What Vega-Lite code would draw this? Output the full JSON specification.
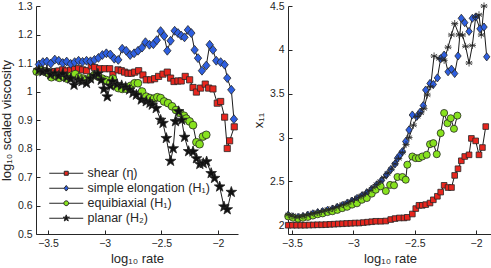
{
  "$schema": "https://vega.github.io/schema/vega-lite/v6.json",
  "padding": {"left": 0, "top": 0, "right": 0, "bottom": 0},
  "config": {
    "font": "Liberation Sans",
    "view": {"stroke": null},
    "axis": {"grid": false, "labelOverlap": false, "domainColor": "#262626", "tickColor": "#262626", "labelColor": "#262626", "titleColor": "#262626", "labelFontSize": 10.5, "titleFontSize": 13, "titleFontWeight": "normal", "tickSize": -4, "labelPadding": 8, "domainWidth": 1, "labelFont": "Liberation Sans", "titleFont": "Liberation Sans"}
  },
  "datasets": {
    "left": [
      {"s":"shear","x":-3.58,"y":1.075},{"s":"shear","x":-3.545,"y":1.072},{"s":"shear","x":-3.51,"y":1.07},{"s":"shear","x":-3.475,"y":1.068},{"s":"shear","x":-3.44,"y":1.07},{"s":"shear","x":-3.405,"y":1.072},{"s":"shear","x":-3.37,"y":1.076},{"s":"shear","x":-3.335,"y":1.072},{"s":"shear","x":-3.3,"y":1.075},{"s":"shear","x":-3.265,"y":1.078},{"s":"shear","x":-3.23,"y":1.08},{"s":"shear","x":-3.195,"y":1.076},{"s":"shear","x":-3.16,"y":1.073},{"s":"shear","x":-3.118,"y":1.09},{"s":"shear","x":-3.088,"y":1.084},{"s":"shear","x":-3.044,"y":1.08},{"s":"shear","x":-3.0,"y":1.08},{"s":"shear","x":-2.956,"y":1.08},{"s":"shear","x":-2.927,"y":1.059},{"s":"shear","x":-2.882,"y":1.076},{"s":"shear","x":-2.853,"y":1.073},{"s":"shear","x":-2.824,"y":1.068},{"s":"shear","x":-2.794,"y":1.064},{"s":"shear","x":-2.765,"y":1.064},{"s":"shear","x":-2.735,"y":1.068},{"s":"shear","x":-2.7,"y":1.073},{"s":"shear","x":-2.662,"y":1.058},{"s":"shear","x":-2.633,"y":1.041},{"s":"shear","x":-2.594,"y":1.041},{"s":"shear","x":-2.559,"y":1.045},{"s":"shear","x":-2.524,"y":1.053},{"s":"shear","x":-2.485,"y":1.061},{"s":"shear","x":-2.447,"y":1.068},{"s":"shear","x":-2.418,"y":1.047},{"s":"shear","x":-2.388,"y":1.035},{"s":"shear","x":-2.353,"y":1.037},{"s":"shear","x":-2.324,"y":1.037},{"s":"shear","x":-2.289,"y":1.053},{"s":"shear","x":-2.25,"y":1.041},{"s":"shear","x":-2.22,"y":1.014},{"s":"shear","x":-2.19,"y":0.998},{"s":"shear","x":-2.153,"y":1.012},{"s":"shear","x":-2.112,"y":1.026},{"s":"shear","x":-2.082,"y":1.012},{"s":"shear","x":-2.044,"y":1.009},{"s":"shear","x":-2.006,"y":0.959},{"s":"shear","x":-1.976,"y":0.965},{"s":"shear","x":-1.941,"y":0.91},{"s":"shear","x":-1.918,"y":0.8},{"s":"shear","x":-1.897,"y":0.827},{"s":"shear","x":-1.856,"y":0.876},
      {"s":"simple","x":-3.58,"y":1.095},{"s":"simple","x":-3.545,"y":1.103},{"s":"simple","x":-3.51,"y":1.105},{"s":"simple","x":-3.475,"y":1.098},{"s":"simple","x":-3.44,"y":1.112},{"s":"simple","x":-3.405,"y":1.108},{"s":"simple","x":-3.37,"y":1.1},{"s":"simple","x":-3.335,"y":1.105},{"s":"simple","x":-3.3,"y":1.097},{"s":"simple","x":-3.265,"y":1.103},{"s":"simple","x":-3.23,"y":1.108},{"s":"simple","x":-3.195,"y":1.104},{"s":"simple","x":-3.16,"y":1.108},{"s":"simple","x":-3.125,"y":1.106},{"s":"simple","x":-3.09,"y":1.111},{"s":"simple","x":-3.055,"y":1.118},{"s":"simple","x":-3.02,"y":1.128},{"s":"simple","x":-2.985,"y":1.134},{"s":"simple","x":-2.95,"y":1.13},{"s":"simple","x":-2.915,"y":1.115},{"s":"simple","x":-2.88,"y":1.111},{"s":"simple","x":-2.845,"y":1.15},{"s":"simple","x":-2.81,"y":1.143},{"s":"simple","x":-2.775,"y":1.128},{"s":"simple","x":-2.74,"y":1.134},{"s":"simple","x":-2.705,"y":1.143},{"s":"simple","x":-2.67,"y":1.154},{"s":"simple","x":-2.64,"y":1.173},{"s":"simple","x":-2.605,"y":1.164},{"s":"simple","x":-2.57,"y":1.166},{"s":"simple","x":-2.54,"y":1.18},{"s":"simple","x":-2.506,"y":1.212},{"s":"simple","x":-2.475,"y":1.195},{"s":"simple","x":-2.447,"y":1.143},{"s":"simple","x":-2.418,"y":1.178},{"s":"simple","x":-2.382,"y":1.213},{"s":"simple","x":-2.353,"y":1.205},{"s":"simple","x":-2.324,"y":1.196},{"s":"simple","x":-2.295,"y":1.19},{"s":"simple","x":-2.265,"y":1.216},{"s":"simple","x":-2.235,"y":1.205},{"s":"simple","x":-2.206,"y":1.146},{"s":"simple","x":-2.176,"y":1.117},{"s":"simple","x":-2.141,"y":1.073},{"s":"simple","x":-2.103,"y":1.091},{"s":"simple","x":-2.073,"y":1.164},{"s":"simple","x":-2.044,"y":1.146},{"s":"simple","x":-2.015,"y":1.108},{"s":"simple","x":-1.976,"y":1.103},{"s":"simple","x":-1.941,"y":1.094},{"s":"simple","x":-1.918,"y":1.047},{"s":"simple","x":-1.882,"y":1.006},{"s":"simple","x":-1.859,"y":0.903},
      {"s":"equi","x":-3.6,"y":1.07},{"s":"equi","x":-3.565,"y":1.075},{"s":"equi","x":-3.53,"y":1.07},{"s":"equi","x":-3.5,"y":1.064},{"s":"equi","x":-3.47,"y":1.05},{"s":"equi","x":-3.435,"y":1.055},{"s":"equi","x":-3.4,"y":1.048},{"s":"equi","x":-3.365,"y":1.052},{"s":"equi","x":-3.33,"y":1.045},{"s":"equi","x":-3.295,"y":1.055},{"s":"equi","x":-3.26,"y":1.061},{"s":"equi","x":-3.225,"y":1.05},{"s":"equi","x":-3.19,"y":1.045},{"s":"equi","x":-3.16,"y":1.041},{"s":"equi","x":-3.125,"y":1.05},{"s":"equi","x":-3.09,"y":1.058},{"s":"equi","x":-3.055,"y":1.052},{"s":"equi","x":-3.02,"y":1.045},{"s":"equi","x":-2.985,"y":1.04},{"s":"equi","x":-2.95,"y":1.03},{"s":"equi","x":-2.927,"y":1.045},{"s":"equi","x":-2.9,"y":1.02},{"s":"equi","x":-2.88,"y":1.012},{"s":"equi","x":-2.845,"y":1.009},{"s":"equi","x":-2.81,"y":1.01},{"s":"equi","x":-2.77,"y":1.02},{"s":"equi","x":-2.735,"y":1.029},{"s":"equi","x":-2.706,"y":1.029},{"s":"equi","x":-2.67,"y":1.0},{"s":"equi","x":-2.633,"y":0.982},{"s":"equi","x":-2.6,"y":0.977},{"s":"equi","x":-2.565,"y":0.975},{"s":"equi","x":-2.535,"y":0.98},{"s":"equi","x":-2.506,"y":0.977},{"s":"equi","x":-2.475,"y":0.965},{"s":"equi","x":-2.44,"y":0.959},{"s":"equi","x":-2.405,"y":0.948},{"s":"equi","x":-2.37,"y":0.935},{"s":"equi","x":-2.335,"y":0.925},{"s":"equi","x":-2.3,"y":0.915},{"s":"equi","x":-2.28,"y":0.905},{"s":"equi","x":-2.25,"y":0.895},{"s":"equi","x":-2.22,"y":0.882},{"s":"equi","x":-2.19,"y":0.822},{"s":"equi","x":-2.162,"y":0.815},{"s":"equi","x":-2.132,"y":0.842},{"s":"equi","x":-2.103,"y":0.848},
      {"s":"planar","x":-3.58,"y":1.075},{"s":"planar","x":-3.545,"y":1.07},{"s":"planar","x":-3.51,"y":1.072},{"s":"planar","x":-3.475,"y":1.06},{"s":"planar","x":-3.44,"y":1.063},{"s":"planar","x":-3.405,"y":1.055},{"s":"planar","x":-3.37,"y":1.062},{"s":"planar","x":-3.335,"y":1.05},{"s":"planar","x":-3.3,"y":1.045},{"s":"planar","x":-3.27,"y":1.023},{"s":"planar","x":-3.235,"y":1.04},{"s":"planar","x":-3.2,"y":1.035},{"s":"planar","x":-3.16,"y":1.029},{"s":"planar","x":-3.125,"y":1.045},{"s":"planar","x":-3.09,"y":1.055},{"s":"planar","x":-3.06,"y":1.062},{"s":"planar","x":-3.03,"y":1.04},{"s":"planar","x":-3.006,"y":1.009},{"s":"planar","x":-2.977,"y":0.982},{"s":"planar","x":-2.95,"y":1.02},{"s":"planar","x":-2.93,"y":1.035},{"s":"planar","x":-2.89,"y":1.025},{"s":"planar","x":-2.85,"y":1.021},{"s":"planar","x":-2.815,"y":1.015},{"s":"planar","x":-2.78,"y":1.006},{"s":"planar","x":-2.75,"y":0.995},{"s":"planar","x":-2.72,"y":0.988},{"s":"planar","x":-2.677,"y":0.971},{"s":"planar","x":-2.633,"y":0.965},{"s":"planar","x":-2.6,"y":0.96},{"s":"planar","x":-2.58,"y":0.953},{"s":"planar","x":-2.545,"y":0.941},{"s":"planar","x":-2.506,"y":0.9},{"s":"planar","x":-2.485,"y":0.889},{"s":"planar","x":-2.456,"y":0.836},{"s":"planar","x":-2.418,"y":0.756},{"s":"planar","x":-2.395,"y":0.8},{"s":"planar","x":-2.375,"y":0.895},{"s":"planar","x":-2.347,"y":0.93},{"s":"planar","x":-2.32,"y":0.9},{"s":"planar","x":-2.294,"y":0.84},{"s":"planar","x":-2.259,"y":0.79},{"s":"planar","x":-2.22,"y":0.789},{"s":"planar","x":-2.19,"y":0.765},{"s":"planar","x":-2.16,"y":0.745},{"s":"planar","x":-2.13,"y":0.748},{"s":"planar","x":-2.1,"y":0.754},{"s":"planar","x":-2.06,"y":0.713},{"s":"planar","x":-2.03,"y":0.696},{"s":"planar","x":-1.985,"y":0.666},{"s":"planar","x":-1.947,"y":0.596},{"s":"planar","x":-1.918,"y":0.586},{"s":"planar","x":-1.882,"y":0.647}
    ],
    "right": [
      {"s":"shear","x":-3.53,"y":2.0},{"s":"shear","x":-3.496,"y":2.0},{"s":"shear","x":-3.462,"y":2.0},{"s":"shear","x":-3.428,"y":2.0},{"s":"shear","x":-3.394,"y":2.0},{"s":"shear","x":-3.36,"y":2.002},{"s":"shear","x":-3.326,"y":2.003},{"s":"shear","x":-3.292,"y":2.005},{"s":"shear","x":-3.258,"y":2.005},{"s":"shear","x":-3.224,"y":2.007},{"s":"shear","x":-3.19,"y":2.01},{"s":"shear","x":-3.156,"y":2.012},{"s":"shear","x":-3.122,"y":2.015},{"s":"shear","x":-3.088,"y":2.017},{"s":"shear","x":-3.054,"y":2.02},{"s":"shear","x":-3.02,"y":2.022},{"s":"shear","x":-2.986,"y":2.025},{"s":"shear","x":-2.952,"y":2.025},{"s":"shear","x":-2.918,"y":2.03},{"s":"shear","x":-2.884,"y":2.035},{"s":"shear","x":-2.85,"y":2.04},{"s":"shear","x":-2.817,"y":2.045},{"s":"shear","x":-2.777,"y":2.045},{"s":"shear","x":-2.736,"y":2.048},{"s":"shear","x":-2.695,"y":2.065},{"s":"shear","x":-2.66,"y":2.076},{"s":"shear","x":-2.625,"y":2.083},{"s":"shear","x":-2.587,"y":2.083},{"s":"shear","x":-2.56,"y":2.09},{"s":"shear","x":-2.519,"y":2.128},{"s":"shear","x":-2.491,"y":2.19},{"s":"shear","x":-2.465,"y":2.227},{"s":"shear","x":-2.438,"y":2.227},{"s":"shear","x":-2.41,"y":2.235},{"s":"shear","x":-2.375,"y":2.253},{"s":"shear","x":-2.348,"y":2.29},{"s":"shear","x":-2.315,"y":2.33},{"s":"shear","x":-2.288,"y":2.378},{"s":"shear","x":-2.26,"y":2.455},{"s":"shear","x":-2.228,"y":2.43},{"s":"shear","x":-2.2,"y":2.43},{"s":"shear","x":-2.174,"y":2.568},{"s":"shear","x":-2.147,"y":2.644},{"s":"shear","x":-2.12,"y":2.735},{"s":"shear","x":-2.092,"y":2.784},{"s":"shear","x":-2.057,"y":2.803},{"s":"shear","x":-2.038,"y":2.99},{"s":"shear","x":-2.003,"y":2.962},{"s":"shear","x":-1.976,"y":2.803},{"s":"shear","x":-1.948,"y":2.886},{"s":"shear","x":-1.921,"y":3.125},
      {"s":"simple","x":-3.53,"y":2.115},{"s":"simple","x":-3.49,"y":2.095},{"s":"simple","x":-3.45,"y":2.09},{"s":"simple","x":-3.41,"y":2.1},{"s":"simple","x":-3.37,"y":2.115},{"s":"simple","x":-3.33,"y":2.13},{"s":"simple","x":-3.29,"y":2.145},{"s":"simple","x":-3.25,"y":2.155},{"s":"simple","x":-3.21,"y":2.17},{"s":"simple","x":-3.17,"y":2.185},{"s":"simple","x":-3.13,"y":2.205},{"s":"simple","x":-3.09,"y":2.225},{"s":"simple","x":-3.05,"y":2.25},{"s":"simple","x":-3.01,"y":2.275},{"s":"simple","x":-2.97,"y":2.305},{"s":"simple","x":-2.93,"y":2.335},{"s":"simple","x":-2.89,"y":2.37},{"s":"simple","x":-2.85,"y":2.41},{"s":"simple","x":-2.81,"y":2.46},{"s":"simple","x":-2.77,"y":2.51},{"s":"simple","x":-2.73,"y":2.575},{"s":"simple","x":-2.695,"y":2.635},{"s":"simple","x":-2.66,"y":2.7},{"s":"simple","x":-2.64,"y":2.765},{"s":"simple","x":-2.62,"y":2.8},{"s":"simple","x":-2.6,"y":2.84},{"s":"simple","x":-2.573,"y":2.955},{"s":"simple","x":-2.546,"y":3.087},{"s":"simple","x":-2.519,"y":3.257},{"s":"simple","x":-2.483,"y":3.24},{"s":"simple","x":-2.455,"y":3.29},{"s":"simple","x":-2.43,"y":3.364},{"s":"simple","x":-2.41,"y":3.542},{"s":"simple","x":-2.375,"y":3.617},{"s":"simple","x":-2.348,"y":3.606},{"s":"simple","x":-2.315,"y":3.68},{"s":"simple","x":-2.288,"y":3.9},{"s":"simple","x":-2.26,"y":3.94},{"s":"simple","x":-2.228,"y":3.75},{"s":"simple","x":-2.2,"y":3.78},{"s":"simple","x":-2.174,"y":3.73},{"s":"simple","x":-2.147,"y":3.93},{"s":"simple","x":-2.12,"y":4.36},{"s":"simple","x":-2.092,"y":4.31},{"s":"simple","x":-2.057,"y":4.21},{"s":"simple","x":-2.03,"y":4.36},{"s":"simple","x":-2.003,"y":4.375},{"s":"simple","x":-1.968,"y":4.24},{"s":"simple","x":-1.935,"y":4.26},{"s":"simple","x":-1.913,"y":3.92},
      {"s":"equi","x":-3.53,"y":2.1},{"s":"equi","x":-3.49,"y":2.085},{"s":"equi","x":-3.45,"y":2.075},{"s":"equi","x":-3.41,"y":2.085},{"s":"equi","x":-3.37,"y":2.095},{"s":"equi","x":-3.33,"y":2.11},{"s":"equi","x":-3.29,"y":2.125},{"s":"equi","x":-3.25,"y":2.135},{"s":"equi","x":-3.21,"y":2.15},{"s":"equi","x":-3.17,"y":2.16},{"s":"equi","x":-3.13,"y":2.175},{"s":"equi","x":-3.09,"y":2.195},{"s":"equi","x":-3.05,"y":2.21},{"s":"equi","x":-3.01,"y":2.235},{"s":"equi","x":-2.97,"y":2.25},{"s":"equi","x":-2.93,"y":2.29},{"s":"equi","x":-2.89,"y":2.31},{"s":"equi","x":-2.85,"y":2.36},{"s":"equi","x":-2.817,"y":2.405},{"s":"equi","x":-2.777,"y":2.443},{"s":"equi","x":-2.735,"y":2.39},{"s":"equi","x":-2.7,"y":2.46},{"s":"equi","x":-2.668,"y":2.455},{"s":"equi","x":-2.64,"y":2.55},{"s":"equi","x":-2.6,"y":2.55},{"s":"equi","x":-2.573,"y":2.519},{"s":"equi","x":-2.56,"y":2.69},{"s":"equi","x":-2.519,"y":2.784},{"s":"equi","x":-2.491,"y":2.765},{"s":"equi","x":-2.465,"y":2.765},{"s":"equi","x":-2.438,"y":2.784},{"s":"equi","x":-2.402,"y":2.803},{"s":"equi","x":-2.375,"y":2.924},{"s":"equi","x":-2.348,"y":2.936},{"s":"equi","x":-2.32,"y":2.81},{"s":"equi","x":-2.288,"y":3.05},{"s":"equi","x":-2.26,"y":3.28},{"s":"equi","x":-2.233,"y":3.163},{"s":"equi","x":-2.206,"y":3.22},{"s":"equi","x":-2.18,"y":3.1},{"s":"equi","x":-2.152,"y":3.25},
      {"s":"planar","x":-3.53,"y":2.12},{"s":"planar","x":-3.5,"y":2.105},{"s":"planar","x":-3.47,"y":2.095},{"s":"planar","x":-3.44,"y":2.095},{"s":"planar","x":-3.41,"y":2.105},{"s":"planar","x":-3.38,"y":2.115},{"s":"planar","x":-3.35,"y":2.125},{"s":"planar","x":-3.32,"y":2.135},{"s":"planar","x":-3.29,"y":2.145},{"s":"planar","x":-3.26,"y":2.155},{"s":"planar","x":-3.23,"y":2.165},{"s":"planar","x":-3.2,"y":2.175},{"s":"planar","x":-3.17,"y":2.19},{"s":"planar","x":-3.14,"y":2.205},{"s":"planar","x":-3.11,"y":2.22},{"s":"planar","x":-3.08,"y":2.235},{"s":"planar","x":-3.05,"y":2.255},{"s":"planar","x":-3.02,"y":2.275},{"s":"planar","x":-2.99,"y":2.295},{"s":"planar","x":-2.96,"y":2.315},{"s":"planar","x":-2.93,"y":2.34},{"s":"planar","x":-2.9,"y":2.365},{"s":"planar","x":-2.87,"y":2.395},{"s":"planar","x":-2.84,"y":2.43},{"s":"planar","x":-2.81,"y":2.465},{"s":"planar","x":-2.78,"y":2.5},{"s":"planar","x":-2.75,"y":2.545},{"s":"planar","x":-2.72,"y":2.59},{"s":"planar","x":-2.69,"y":2.64},{"s":"planar","x":-2.66,"y":2.7},{"s":"planar","x":-2.63,"y":2.76},{"s":"planar","x":-2.6,"y":2.83},{"s":"planar","x":-2.57,"y":2.92},{"s":"planar","x":-2.546,"y":3.0},{"s":"planar","x":-2.51,"y":3.14},{"s":"planar","x":-2.478,"y":3.24},{"s":"planar","x":-2.45,"y":3.28},{"s":"planar","x":-2.424,"y":3.33},{"s":"planar","x":-2.397,"y":3.485},{"s":"planar","x":-2.37,"y":3.58},{"s":"planar","x":-2.342,"y":3.93},{"s":"planar","x":-2.3,"y":3.9},{"s":"planar","x":-2.26,"y":3.88},{"s":"planar","x":-2.228,"y":4.03},{"s":"planar","x":-2.2,"y":4.17},{"s":"planar","x":-2.174,"y":4.3},{"s":"planar","x":-2.139,"y":4.17},{"s":"planar","x":-2.11,"y":4.17},{"s":"planar","x":-2.085,"y":4.04},{"s":"planar","x":-2.057,"y":3.85},{"s":"planar","x":-2.03,"y":4.05},{"s":"planar","x":-2.003,"y":4.375},{"s":"planar","x":-1.976,"y":4.4},{"s":"planar","x":-1.957,"y":4.17},{"s":"planar","x":-1.935,"y":4.5}
    ]
  },
  "spacing": 12,
  "resolve": {"scale": {"color": "independent", "shape": "independent"}, "legend": {"color": "independent", "shape": "independent"}},
  "hconcat": [
    {
      "width": 202,
      "height": 228,
      "data": {"name": "left"},
      "resolve": {"scale": {"color": "independent", "shape": "independent"}},
      "layer": [
        {
          "mark": {"type": "line", "color": "#1a1a1a", "strokeWidth": 1},
          "encoding": {
            "x": {"field": "x", "type": "quantitative", "scale": {"domain": [-3.606, -1.823], "nice": false, "zero": false}, "axis": {"values": [-3.5, -3, -2.5, -2], "tickCount": 20, "format": "~g", "title": "log₁₀ rate"}},
            "y": {"field": "y", "type": "quantitative", "scale": {"domain": [0.5, 1.3], "nice": false, "zero": false}, "axis": {"values": [0.5, 0.6, 0.7, 0.8, 0.9, 1, 1.1, 1.2, 1.3], "tickCount": 20, "format": "~g", "title": "log₁₀ scaled viscosity", "titlePadding": 4}},
            "detail": {"field": "s"}
          }
        },
        {
          "mark": {"type": "point", "filled": true, "opacity": 1, "stroke": "#262626", "strokeWidth": 0.8, "size": 60},
          "encoding": {
            "x": {"field": "x", "type": "quantitative"},
            "y": {"field": "y", "type": "quantitative"},
            "color": {"field": "s", "type": "nominal", "scale": {"domain": ["shear", "simple", "equi", "planar"], "range": ["#e8261e", "#2e5fe0", "#87e21e", "#111111"]}, "legend": null},
            "shape": {
              "field": "s", "type": "nominal",
              "scale": {"domain": ["shear", "simple", "equi", "planar"], "range": ["M-0.8,-0.8H0.8V0.8H-0.8Z", "M0,-1.15L0.95,0L0,1.15L-0.95,0Z", "circle", "M0,-1.45L0.34,-0.47L1.38,-0.45L0.55,0.18L0.85,1.17L0,0.58L-0.85,1.17L-0.55,0.18L-1.38,-0.45L-0.34,-0.47Z"]},
              "legend": null
            }
          }
        },
        {
          "transform": [{"filter": "false"}],
          "mark": {"type": "point", "filled": true, "opacity": 1, "stroke": "#262626", "strokeWidth": 1},
          "encoding": {
            "x": {"field": "x", "type": "quantitative"},
            "y": {"field": "y", "type": "quantitative"},
            "color": {
              "field": "s", "type": "nominal",
              "scale": {"domain": ["shear", "simple", "equi", "planar"], "range": ["#e8261e", "#2e5fe0", "#87e21e", "#111111"]},
              "legend": {
                "orient": "none", "legendX": 24, "legendY": 161, "title": null, "padding": 0,
                "labelFontSize": 12.5, "labelColor": "#262626", "labelOffset": 15, "symbolSize": 16, "rowPadding": 2,
                "symbolStrokeColor": "#262626", "symbolStrokeWidth": 1,
                "labelExpr": "datum.value === 'shear' ? 'shear (η)' : datum.value === 'simple' ? 'simple elongation (H₁)' : datum.value === 'equi' ? 'equibiaxial (H₁)' : 'planar (H₂)'"
              }
            },
            "shape": {
              "field": "s", "type": "nominal",
              "scale": {"domain": ["shear", "simple", "equi", "planar"], "range": [
                "M-8.5,0H-1M1,0H8.5M-1,-1H1V1H-1Z",
                "M-8.5,0H-1.1M1.1,0H8.5M0,-1.4L1.1,0L0,1.4L-1.1,0Z",
                "M-8.5,0H-1.2M1.2,0H8.5M-1.2,0A1.2,1.2,0,1,0,1.2,0A1.2,1.2,0,1,0,-1.2,0Z",
                "M-8.5,0H-1.2M1.2,0H8.5M0,-1.7L0.4,-0.55L1.62,-0.53L0.65,0.21L1,1.38L0,0.68L-1,1.38L-0.65,0.21L-1.62,-0.53L-0.4,-0.55Z"
              ]},
              "legend": {
                "orient": "none", "legendX": 24, "legendY": 161, "title": null, "padding": 0,
                "labelFontSize": 12.5, "labelColor": "#262626", "labelOffset": 15, "symbolSize": 16, "rowPadding": 2,
                "symbolStrokeColor": "#262626", "symbolStrokeWidth": 1,
                "labelExpr": "datum.value === 'shear' ? 'shear (η)' : datum.value === 'simple' ? 'simple elongation (H₁)' : datum.value === 'equi' ? 'equibiaxial (H₁)' : 'planar (H₂)'"
              }
            }
          }
        }
      ]
    },
    {
      "width": 204,
      "height": 228,
      "data": {"name": "right"},
      "layer": [
        {
          "mark": {"type": "line", "color": "#1a1a1a", "strokeWidth": 1},
          "encoding": {
            "x": {"field": "x", "type": "quantitative", "scale": {"domain": [-3.532, -1.87], "nice": false, "zero": false}, "axis": {"values": [-3.5, -3, -2.5, -2], "tickCount": 20, "format": "~g", "title": "log₁₀ rate"}},
            "y": {"field": "y", "type": "quantitative", "scale": {"domain": [1.9, 4.5], "nice": false, "zero": false}, "axis": {"values": [2, 2.5, 3, 3.5, 4, 4.5], "tickCount": 20, "format": "~g", "title": "x₁₁", "titlePadding": 4}},
            "detail": {"field": "s"}
          }
        },
        {
          "mark": {"type": "point", "filled": true, "opacity": 1, "stroke": "#262626", "strokeWidth": 0.8, "size": 50},
          "encoding": {
            "x": {"field": "x", "type": "quantitative"},
            "y": {"field": "y", "type": "quantitative"},
            "color": {"field": "s", "type": "nominal", "scale": {"domain": ["shear", "simple", "equi", "planar"], "range": ["#e8261e", "#2e5fe0", "#87e21e", "#111111"]}, "legend": null},
            "shape": {"field": "s", "type": "nominal", "scale": {"domain": ["shear", "simple", "equi", "planar"], "range": ["M-0.8,-0.8H0.8V0.8H-0.8Z", "M0,-1.15L0.9,0L0,1.15L-0.9,0Z", "circle", "M0,-1V1M-0.87,-0.5L0.87,0.5M-0.87,0.5L0.87,-0.5M-1,0H1"]}, "legend": null}
          }
        }
      ]
    }
  ]
}
